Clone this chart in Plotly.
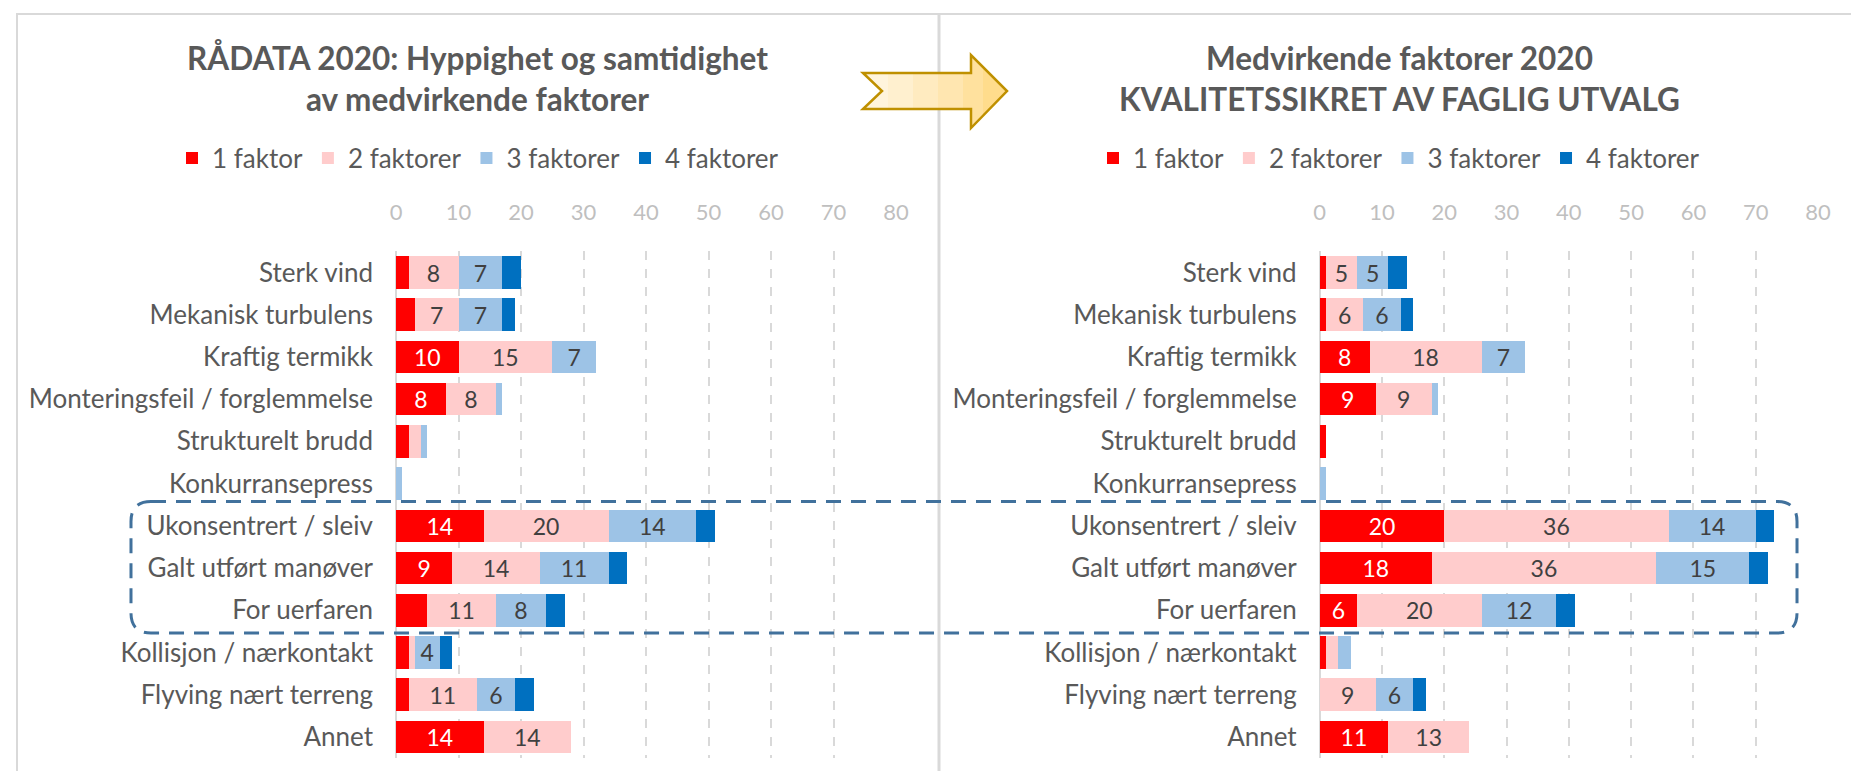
import plotly.graph_objects as go

W, H = 1859, 771

categories = ["Sterk vind", "Mekanisk turbulens", "Kraftig termikk",
              "Monteringsfeil / forglemmelse", "Strukturelt brudd", "Konkurransepress",
              "Ukonsentrert / sleiv", "Galt utført manøver", "For uerfaren",
              "Kollisjon / nærkontakt", "Flyving nært terreng", "Annet"]
series_names = ["1 faktor", "2 faktorer", "3 faktorer", "4 faktorer"]
x_ticks = [0, 10, 20, 30, 40, 50, 60, 70, 80]

# Left panel: raw data
raw_1 = [2, 3, 10, 8, 2, 0, 14, 9, 5, 2, 2, 14]
raw_2 = [8, 7, 15, 8, 2, 0, 20, 14, 11, 1, 11, 14]
raw_3 = [7, 7, 7, 1, 1, 1, 14, 11, 8, 4, 6, 0]
raw_4 = [3, 2, 0, 0, 0, 0, 3, 3, 3, 2, 3, 0]

# Right panel: quality-assured data
qa_1 = [1, 1, 8, 9, 1, 0, 20, 18, 6, 1, 0, 11]
qa_2 = [5, 6, 18, 9, 0, 0, 36, 36, 20, 2, 9, 13]
qa_3 = [5, 6, 7, 1, 0, 1, 14, 15, 12, 2, 6, 0]
qa_4 = [3, 2, 0, 0, 0, 0, 3, 3, 3, 0, 2, 0]

colors = ["#FF0000", "#FFCCCC", "#9DC3E6", "#0070C0"]
text_colors = ["#FFFFFF", "#404040", "#404040", "#404040"]
# labels not displayed in the original (panel, series index, category)
hidden_labels = {("left", 0, "For uerfaren")}

FONT = "Lato"
GREY = "#595959"


def px_x(x):
    return x / W


def px_y(y):
    return 1 - y / H


def labels(panel, si, vals):
    out = []
    for c, v in zip(categories, vals):
        if v >= 4 and (panel, si, c) not in hidden_labels:
            out.append(str(v))
        else:
            out.append("")
    return out


fig = go.Figure()

panels = [("left", [raw_1, raw_2, raw_3, raw_4], "x", "y", "legend"),
          ("right", [qa_1, qa_2, qa_3, qa_4], "x2", "y2", "legend2")]

for panel, data, xa, ya, lg in panels:
    for si, (name, vals) in enumerate(zip(series_names, data)):
        fig.add_trace(go.Bar(
            y=categories, x=vals, orientation="h", name=name,
            marker=dict(color=colors[si], line=dict(width=0)),
            text=labels(panel, si, vals), textposition="inside",
            insidetextanchor="middle", textangle=0, constraintext="none",
            textfont=dict(family=FONT, size=23, color=text_colors[si]),
            xaxis=xa, yaxis=ya, legend=lg, hoverinfo="skip",
        ))

y_dom = [px_y(750), px_y(243.4)]
xaxis_common = dict(
    range=[0, 80], tickvals=x_ticks, side="top", showgrid=True,
    gridcolor="#D9D9D9", griddash="dash", gridwidth=1.5,
    zeroline=True, zerolinecolor="#D9D9D9", zerolinewidth=1.5,
    showline=False, ticks="", ticklabelstandoff=26, automargin=False,
    tickfont=dict(family=FONT, size=22, color="#BFBFBF"), fixedrange=True,
)
yaxis_common = dict(
    autorange="reversed", type="category", showgrid=False, zeroline=False,
    showline=False, ticks="", ticklabelstandoff=22, domain=y_dom, automargin=False,
    tickfont=dict(family=FONT, size=26, color=GREY), fixedrange=True,
)

legend_common = dict(
    orientation="h", yanchor="middle", y=px_y(150), xanchor="center",
    font=dict(family=FONT, size=26, color=GREY), bgcolor="rgba(0,0,0,0)",
    traceorder="normal", itemclick=False, itemdoubleclick=False,
)

fig.update_layout(
    width=W, height=H, margin=dict(l=0, r=0, t=0, b=0, autoexpand=False),
    paper_bgcolor="white", plot_bgcolor="white",
    barmode="stack", bargap=0.23, showlegend=True,
    uniformtext=dict(mode=False),
    xaxis=dict(domain=[px_x(388), px_x(888)], anchor="y", **xaxis_common),
    yaxis=dict(anchor="x", **yaxis_common),
    xaxis2=dict(domain=[px_x(1311.7), px_x(1810)], anchor="y2", **xaxis_common),
    yaxis2=dict(anchor="x2", **yaxis_common),
    legend=dict(x=px_x(470), **legend_common),
    legend2=dict(x=px_x(1391), **legend_common),
    font=dict(family=FONT, color=GREY),
)

# Titles
fig.add_annotation(x=px_x(470), y=px_y(70), xref="paper", yref="paper",
                   xanchor="center", yanchor="middle",
                   text="<b>RÅDATA 2020: Hyppighet og samtidighet<br>av medvirkende faktorer</b>",
                   showarrow=False, align="center",
                   font=dict(family=FONT, size=31.5, color=GREY))
fig.add_annotation(x=px_x(1391), y=px_y(70), xref="paper", yref="paper",
                   xanchor="center", yanchor="middle",
                   text="<b>Medvirkende faktorer 2020<br>KVALITETSSIKRET AV FAGLIG UTVALG</b>",
                   showarrow=False, align="center",
                   font=dict(family=FONT, size=31.5, color=GREY))

# Panel borders
fig.add_shape(type="rect", xref="paper", yref="paper",
              x0=px_x(9), x1=px_x(1851), y0=px_y(790), y1=px_y(6),
              line=dict(color="#D9D9D9", width=2), layer="below")
fig.add_shape(type="line", xref="paper", yref="paper",
              x0=px_x(931), x1=px_x(931), y0=px_y(771), y1=px_y(6),
              line=dict(color="#D9D9D9", width=3), layer="below")


def P(a, b):
    return f"{px_x(a):.5f},{px_y(b):.5f}"


# Arrow between panels (gradient approximated with vertical bands)
arrow = [(855, 65), (963, 65), (963, 47), (999, 83), (963, 120), (963, 101), (855, 101), (874, 83)]
band_cols = ["#FFF4DC", "#FFF0CF", "#FFEBC0", "#FFE6B0", "#FFE19E", "#FFDC8C"]
bx = [855, 880, 905, 930, 955, 975, 1000]
for i, col in enumerate(band_cols):
    xa_, xb_ = bx[i], bx[i + 1]
    if xb_ <= 963:
        if xa_ == 855:
            pts = [(855, 65), (xb_, 65), (xb_, 101), (855, 101), (874, 83)]
        else:
            pts = [(xa_, 65), (xb_, 65), (xb_, 101), (xa_, 101)]
    else:
        if xa_ < 963:
            pts = [(xa_, 65), (963, 65), (963, 47), (xb_, 47 + (xb_ - 963)),
                   (xb_, 120 - (xb_ - 963)), (963, 120), (963, 101), (xa_, 101)]
        else:
            pts = [(xa_, 47 + (xa_ - 963)), (xb_, 47 + (xb_ - 963)),
                   (xb_, 120 - (xb_ - 963)), (xa_, 120 - (xa_ - 963))]
    path = "M " + " L ".join(P(a, b) for a, b in pts) + " Z"
    fig.add_shape(type="path", xref="paper", yref="paper", path=path,
                  fillcolor=col, line=dict(width=0))
arrow_path = "M " + " L ".join(P(a, b) for a, b in arrow) + " Z"
fig.add_shape(type="path", xref="paper", yref="paper", path=arrow_path,
              fillcolor="rgba(0,0,0,0)", line=dict(color="#BF9000", width=2.5))

# Dashed rounded highlight box
x0, x1, y0, y1, r = 123, 1789, 493.5, 625, 20
box = (f"M {P(x0 + r, y0)} L {P(x1 - r, y0)} Q {P(x1, y0)} {P(x1, y0 + r)} "
       f"L {P(x1, y1 - r)} Q {P(x1, y1)} {P(x1 - r, y1)} "
       f"L {P(x0 + r, y1)} Q {P(x0, y1)} {P(x0, y1 - r)} "
       f"L {P(x0, y0 + r)} Q {P(x0, y0)} {P(x0 + r, y0)} Z")
fig.add_shape(type="path", xref="paper", yref="paper", path=box,
              line=dict(color="#41719C", width=3, dash="15px,10px"))

fig.write_html("out.html")
